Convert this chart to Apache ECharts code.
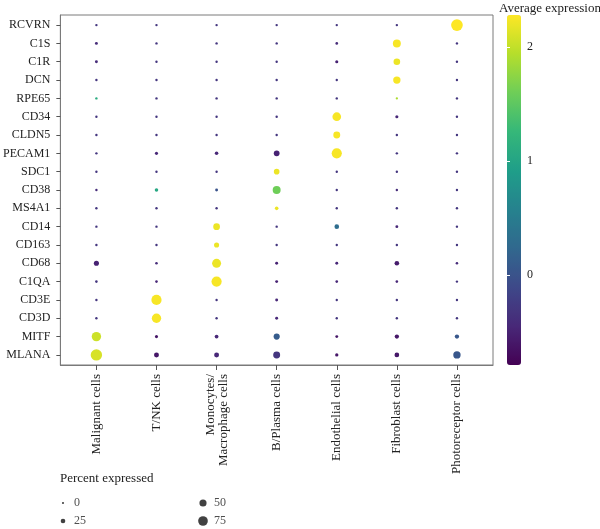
<!DOCTYPE html>
<html>
<head>
<meta charset="utf-8">
<script src="https://cdn.jsdelivr.net/npm/echarts@6/dist/echarts.min.js"></script>
<style>
	html, body { margin: 0; padding: 0; background: #fff; }
	#chart { width: 600px; height: 529px; }
</style>
</head>
<body>
<div id="chart"></div>
<script>
// genes listed top to bottom
var genes = ['RCVRN', 'C1S', 'C1R', 'DCN', 'RPE65', 'CD34', 'CLDN5', 'PECAM1', 'SDC1', 'CD38',
	'MS4A1', 'CD14', 'CD163', 'CD68', 'C1QA', 'CD3E', 'CD3D', 'MITF', 'MLANA'];
var cells = ['Malignant cells', 'T/NK cells', 'Monocytes/\nMacrophage cells', 'B/Plasma cells',
	'Endothelial cells', 'Fibroblast cells', 'Photoreceptor cells'];

// average expression, one row per gene, columns follow cells
var avgExpr = [
	[-0.3, -0.3, -0.3, -0.3, -0.3, -0.3, 2.28],
	[-0.4, -0.3, -0.3, -0.3, -0.4, 2.25, -0.3],
	[-0.4, -0.3, -0.3, -0.3, -0.5, 2.2, -0.3],
	[-0.3, -0.3, -0.3, -0.3, -0.3, 2.25, -0.3],
	[1.1, -0.3, -0.3, -0.3, -0.3, 1.9, -0.3],
	[-0.3, -0.3, -0.3, -0.3, 2.25, -0.45, -0.3],
	[-0.3, -0.3, -0.3, -0.3, 2.25, -0.3, -0.3],
	[-0.3, -0.45, -0.45, -0.5, 2.25, -0.3, -0.3],
	[-0.3, -0.3, -0.3, 2.2, -0.3, -0.3, -0.3],
	[-0.4, 1.05, 0.0, 1.6, -0.3, -0.4, -0.3],
	[-0.3, -0.3, -0.3, 2.2, -0.3, -0.3, -0.3],
	[-0.3, -0.3, 2.2, -0.3, 0.3, -0.45, -0.3],
	[-0.3, -0.3, 2.2, -0.3, -0.3, -0.3, -0.3],
	[-0.5, -0.4, 2.2, -0.5, -0.45, -0.55, -0.4],
	[-0.3, -0.45, 2.25, -0.5, -0.45, -0.45, -0.3],
	[-0.3, 2.25, -0.3, -0.45, -0.3, -0.3, -0.3],
	[-0.3, 2.25, -0.3, -0.45, -0.3, -0.3, -0.3],
	[2.05, -0.6, -0.45, 0.1, -0.6, -0.6, 0.05],
	[2.1, -0.6, -0.45, -0.3, -0.6, -0.6, 0.05]
];

// percent expressed, same layout
var pctExpr = [
	[3, 3, 3, 3, 3, 3, 95],
	[8, 3, 3, 3, 6, 58, 3],
	[8, 3, 3, 3, 10, 45, 3],
	[3, 3, 3, 3, 3, 52, 3],
	[3, 3, 3, 3, 3, 2, 3],
	[3, 3, 3, 3, 65, 10, 3],
	[3, 3, 3, 3, 48, 3, 3],
	[3, 10, 14, 36, 80, 3, 3],
	[3, 3, 3, 35, 3, 3, 3],
	[3, 14, 8, 58, 3, 3, 3],
	[3, 3, 3, 15, 3, 3, 3],
	[3, 3, 46, 3, 25, 8, 3],
	[3, 3, 30, 3, 3, 3, 3],
	[30, 5, 68, 8, 8, 25, 5],
	[5, 5, 80, 8, 6, 5, 3],
	[3, 80, 3, 8, 3, 3, 3],
	[3, 72, 3, 8, 3, 3, 3],
	[72, 10, 16, 40, 8, 22, 22],
	[92, 28, 28, 48, 12, 26, 52]
];

var sizeLegend = [0, 25, 50, 75];
var colorTicks = [0, 1, 2];
var colorMin = -0.79, colorMax = 2.28;
var viridis = ['#440154', '#482878', '#3e4989', '#31688e', '#26828e', '#1f9e89', '#35b779', '#6ece58', '#b5de2b', '#fde725'];

function dotSize(p) {
	return 2.1 + 0.101 * p;
}

var dots = [];
for (var i = 0; i < genes.length; i++) {
	for (var j = 0; j < cells.length; j++) {
		dots.push([j, genes.length - 1 - i, avgExpr[i][j], pctExpr[i][j]]);
	}
}

var legendDots = [];
for (var k = 0; k < sizeLegend.length; k++) {
	legendDots.push([Math.floor(k / 2), 1 - (k % 2), sizeLegend[k]]);
}

var serif = '"Liberation Serif", "DejaVu Serif", serif';
var myChart = echarts.init(document.getElementById('chart'));
var option = {
	animation: false,
	textStyle: { fontFamily: serif },
	title: [{
		text: 'Average expression',
		left: 499,
		top: 2,
		padding: 0,
		textStyle: { fontFamily: serif, fontSize: 13, fontWeight: 'normal', color: '#222' }
	}, {
		text: 'Percent expressed',
		left: 60,
		top: 472,
		padding: 0,
		textStyle: { fontFamily: serif, fontSize: 13, fontWeight: 'normal', color: '#222' }
	}],
	grid: [
		{ left: 58, top: 15, width: 435, height: 350, show: true, borderColor: '#7a7a7a', borderWidth: 1 },
		{ left: 507, top: 15, width: 14, height: 350 },
		{ left: 63, top: 503, width: 140, height: 18 }
	],
	xAxis: [{
		gridIndex: 0,
		type: 'value',
		min: -0.6,
		max: 6.6,
		splitLine: { show: false },
		axisLine: { show: true, onZero: false, lineStyle: { color: '#7a7a7a' } },
		axisTick: { show: true, length: 5, customValues: [0, 1, 2, 3, 4, 5, 6], lineStyle: { color: '#555' } },
		axisLabel: {
			rotate: 90,
			margin: 9,
			fontSize: 13,
			fontFamily: serif,
			color: '#222',
			customValues: [0, 1, 2, 3, 4, 5, 6],
			formatter: function(v) { return cells[Math.round(v)]; }
		}
	}, {
		gridIndex: 1, type: 'value', show: false
	}, {
		gridIndex: 2, type: 'value', min: 0, max: 1, show: false
	}],
	yAxis: [{
		gridIndex: 0,
		type: 'value',
		min: -0.55,
		max: 18.55,
		splitLine: { show: false },
		axisLine: { show: true, onZero: false, lineStyle: { color: '#7a7a7a' } },
		axisTick: { show: true, length: 4, customValues: genes.map(function(g, i) { return i; }), lineStyle: { color: '#555' } },
		axisLabel: {
			margin: 10,
			fontSize: 12,
			fontFamily: serif,
			color: '#222',
			customValues: genes.map(function(g, i) { return i; }),
			formatter: function(v) { return genes[genes.length - 1 - Math.round(v)]; }
		}
	}, {
		// colour bar scale (ticks + labels)
		gridIndex: 1,
		type: 'value',
		position: 'right',
		min: colorMin,
		max: colorMax,
		z: 10,
		splitLine: { show: false },
		axisLine: { show: false },
		axisTick: { show: true, inside: true, length: 3, customValues: colorTicks, lineStyle: { color: '#fff', width: 1 } },
		axisLabel: { margin: 6, fontSize: 12, fontFamily: serif, color: '#222', customValues: colorTicks }
	}, {
		gridIndex: 1,
		type: 'value',
		position: 'left',
		min: colorMin,
		max: colorMax,
		z: 10,
		splitLine: { show: false },
		axisLine: { show: false },
		axisTick: { show: true, inside: true, length: 3, customValues: colorTicks, lineStyle: { color: '#fff', width: 1 } },
		axisLabel: { show: false }
	}, {
		gridIndex: 2, type: 'value', min: 0, max: 1, show: false
	}],
	visualMap: {
		type: 'continuous',
		seriesIndex: 0,
		dimension: 2,
		min: colorMin,
		max: colorMax,
		calculable: false,
		realtime: false,
		left: 507,
		top: 15,
		itemWidth: 14,
		itemHeight: 350,
		padding: 0,
		inRange: { color: viridis }
	},
	series: [{
		type: 'scatter',
		xAxisIndex: 0,
		yAxisIndex: 0,
		data: dots,
		symbolSize: function(v) { return dotSize(v[3]); },
		itemStyle: { opacity: 1 }
	}, {
		type: 'scatter',
		xAxisIndex: 2,
		yAxisIndex: 3,
		data: legendDots,
		symbolSize: function(v) { return dotSize(v[2]); },
		itemStyle: { color: '#111' },
		label: {
			show: true,
			position: 'inside',
			align: 'left',
			offset: [11, 0],
			fontSize: 12,
			fontFamily: serif,
			color: '#222',
			formatter: function(p) { return p.value[2]; }
		}
	}]
};
myChart.setOption(option);
</script>
</body>
</html>
